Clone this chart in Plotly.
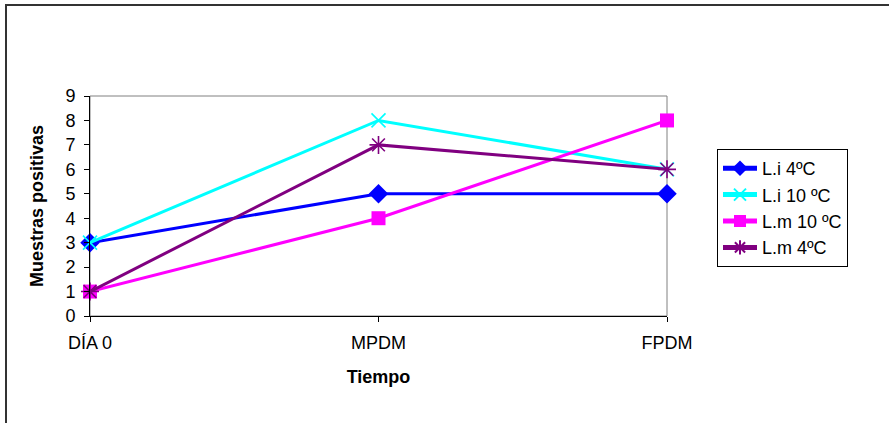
import plotly.graph_objects as go

categories = ["DÍA 0", "MPDM", "FPDM"]
li_4 = [3, 5, 5]
li_10 = [3, 8, 6]
lm_10 = [1, 4, 8]
lm_4 = [1, 7, 6]
y_ticks = list(range(0, 10))

W, H = 889, 423
L, R, T, B = 90, 222, 96, 107
pw, ph = W - L - R, H - T - B

def px_x(px):
    return (px - L) / pw

def px_y(py):
    return (H - B - py) / ph

xs = list(range(len(categories)))
fig = go.Figure()
series = [
    ("L.i 4ºC", li_4, "#0000FF", dict(symbol="diamond", size=15)),
    ("L.i 10 ºC", li_10, "#00FFFF", dict(symbol="x-thin", size=14, line=dict(width=1.6, color="#00FFFF"))),
    ("L.m 10 ºC", lm_10, "#FF00FF", dict(symbol="square", size=14)),
    ("L.m 4ºC", lm_4, "#800080", dict(symbol="asterisk", size=15, line=dict(width=1.6, color="#800080"))),
]
for name, vals, col, mk in series:
    mk = dict(mk)
    mk["color"] = col
    fig.add_trace(go.Scatter(x=xs, y=vals, name=name, mode="lines+markers",
                             line=dict(color=col, width=3), marker=mk, cliponaxis=False))

font = "Liberation Sans, Arial, sans-serif"
fig.update_layout(
    width=W, height=H,
    margin=dict(l=L, r=R, t=T, b=B, pad=0),
    paper_bgcolor="white", plot_bgcolor="white",
    font=dict(family=font, size=17, color="black"),
    showlegend=True,
    legend=dict(x=px_x(717), y=px_y(208), xanchor="left", yanchor="middle",
                bordercolor="black", borderwidth=1, bgcolor="white",
                font=dict(size=18), tracegroupgap=0, itemsizing="constant",
                itemwidth=34),
    xaxis=dict(range=[0, 2], tickvals=xs, ticktext=categories, showgrid=False,
               zeroline=False, showline=True, linecolor="black", linewidth=1,
               ticks="outside", ticklen=5, tickcolor="black",
               tickfont=dict(size=18), ticklabelstandoff=5,
               title=dict(text="<b>Tiempo</b>", font=dict(size=18), standoff=18)),
    yaxis=dict(range=[0, 9], tickvals=y_ticks, showgrid=False, zeroline=False,
               showline=True, linecolor="black", linewidth=1,
               ticks="outside", ticklen=5, tickcolor="black",
               tickfont=dict(size=18), ticklabelstandoff=5,
               title=dict(text="<b>Muestras positivas</b>", font=dict(size=18), standoff=17)),
    shapes=[
        dict(type="rect", xref="paper", yref="paper", x0=0, x1=1, y0=0, y1=1,
             line=dict(color="#808080", width=1), layer="below"),
        dict(type="line", xref="paper", yref="paper", x0=px_x(5), x1=px_x(889),
             y0=px_y(5), y1=px_y(5), line=dict(color="#333333", width=2)),
        dict(type="line", xref="paper", yref="paper", x0=px_x(6), x1=px_x(6),
             y0=px_y(4), y1=px_y(423), line=dict(color="#333333", width=2)),
    ],
)
fig.write_html("out.html")
